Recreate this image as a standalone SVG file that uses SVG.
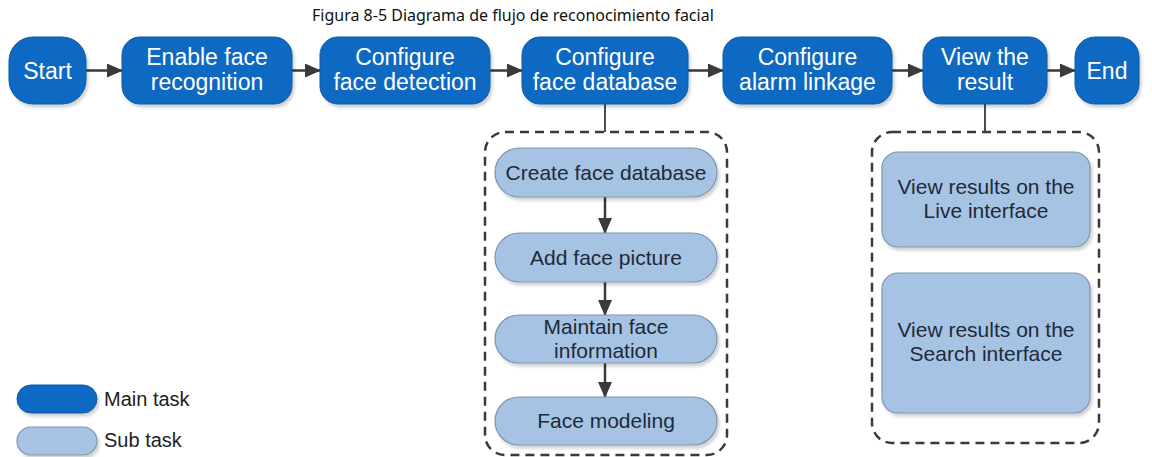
<svg xmlns="http://www.w3.org/2000/svg" width="1152" height="457" viewBox="0 0 1152 457">
<defs>
<filter id="sh" x="-10%" y="-10%" width="130%" height="130%">
<feDropShadow dx="2" dy="3" stdDeviation="1.5" flood-color="#000" flood-opacity="0.18"/>
</filter>
<marker id="ah" markerWidth="16" markerHeight="14" refX="15" refY="7" orient="auto" markerUnits="userSpaceOnUse">
<path d="M0,0 L16,7 L0,14 Z" fill="#3a3a3a"/>
</marker>
</defs>
<style>
.main{fill:#0b69c1;stroke:#0a5aa6;stroke-width:1;filter:url(#sh)}
.sub{fill:#a6c3e3;stroke:#7d94b0;stroke-width:1.2;filter:url(#sh)}
.mt{font-family:"Liberation Sans",Arial,sans-serif;font-size:23px;fill:#ffffff;text-anchor:middle}
.st{font-family:"Liberation Sans",Arial,sans-serif;font-size:21px;fill:#1e2a3a;text-anchor:middle}
.lt{font-family:"Liberation Sans",Arial,sans-serif;font-size:20px;fill:#222222}
.cap{font-family:"Noto Sans","Open Sans",sans-serif;font-size:16px;fill:#111111}
.arr{stroke:#3a3a3a;stroke-width:2.5;fill:none;marker-end:url(#ah)}
.ln{stroke:#3a3a3a;stroke-width:1.8;fill:none}
.dash{fill:none;stroke:#3a3a3a;stroke-width:2.5;stroke-dasharray:9 6}
</style>
<rect width="1152" height="457" fill="#ffffff"/>
<text class="cap" x="312" y="21">Figura 8-5 Diagrama de flujo de reconocimiento facial</text>

<g id="connectors">
<line class="arr" x1="86" y1="70.5" x2="122" y2="70.5"/>
<line class="arr" x1="292" y1="70.5" x2="320" y2="70.5"/>
<line class="arr" x1="490" y1="70.5" x2="522" y2="70.5"/>
<line class="arr" x1="688" y1="70.5" x2="723" y2="70.5"/>
<line class="arr" x1="892" y1="70.5" x2="923" y2="70.5"/>
<line class="arr" x1="1047" y1="70.5" x2="1075" y2="70.5"/>
<line class="ln" x1="605" y1="104" x2="605" y2="132"/>
<line class="ln" x1="985" y1="104" x2="985" y2="132"/>
<line class="arr" x1="605" y1="197" x2="605" y2="233"/>
<line class="arr" x1="605" y1="282" x2="605" y2="315"/>
<line class="arr" x1="605" y1="363" x2="605" y2="397"/>
</g>

<g id="group-database">
<rect class="dash" x="485" y="132" width="242" height="323" rx="20"/>
</g>
<g id="group-result">
<rect class="dash" x="872" y="132" width="227" height="311" rx="20"/>
</g>

<g id="start">
<rect class="main" x="9" y="37" width="77" height="67" rx="24"/>
<text class="mt" x="47.5" y="78.5">Start</text>
</g>
<g id="enable">
<rect class="main" x="122" y="37" width="170" height="67" rx="18"/>
<text class="mt" x="207" y="65">Enable face</text>
<text class="mt" x="207" y="90">recognition</text>
</g>
<g id="detection">
<rect class="main" x="320" y="37" width="170" height="67" rx="18"/>
<text class="mt" x="405" y="65">Configure</text>
<text class="mt" x="405" y="90">face detection</text>
</g>
<g id="database">
<rect class="main" x="522" y="37" width="166" height="67" rx="18"/>
<text class="mt" x="605" y="65">Configure</text>
<text class="mt" x="605" y="90">face database</text>
</g>
<g id="alarm">
<rect class="main" x="723" y="37" width="169" height="67" rx="18"/>
<text class="mt" x="807.5" y="65">Configure</text>
<text class="mt" x="807.5" y="90">alarm linkage</text>
</g>
<g id="view">
<rect class="main" x="923" y="37" width="124" height="67" rx="18"/>
<text class="mt" x="985" y="65">View the</text>
<text class="mt" x="985" y="90">result</text>
</g>
<g id="end">
<rect class="main" x="1075" y="37" width="64" height="67" rx="20"/>
<text class="mt" x="1107" y="78.5">End</text>
</g>

<g id="create-db">
<rect class="sub" x="495" y="148" width="222" height="49" rx="24.5"/>
<text class="st" x="606" y="180">Create face database</text>
</g>
<g id="add-picture">
<rect class="sub" x="495" y="233" width="222" height="49" rx="24.5"/>
<text class="st" x="606" y="265">Add face picture</text>
</g>
<g id="maintain">
<rect class="sub" x="495" y="315" width="222" height="48" rx="24"/>
<text class="st" x="606" y="334">Maintain face</text>
<text class="st" x="606" y="358">information</text>
</g>
<g id="modeling">
<rect class="sub" x="495" y="397" width="222" height="48" rx="24"/>
<text class="st" x="606" y="428">Face modeling</text>
</g>

<g id="live">
<rect class="sub" x="882" y="152" width="208" height="95" rx="16"/>
<text class="st" x="986" y="194">View results on the</text>
<text class="st" x="986" y="218">Live interface</text>
</g>
<g id="search">
<rect class="sub" x="882" y="273" width="208" height="140" rx="16"/>
<text class="st" x="986" y="337">View results on the</text>
<text class="st" x="986" y="361">Search interface</text>
</g>

<g id="legend-main">
<rect class="main" x="17" y="385" width="80" height="28" rx="14"/>
<text class="lt" x="104" y="406">Main task</text>
</g>
<g id="legend-sub">
<rect class="sub" x="17" y="427" width="80" height="28" rx="14"/>
<text class="lt" x="104" y="447">Sub task</text>
</g>
</svg>
